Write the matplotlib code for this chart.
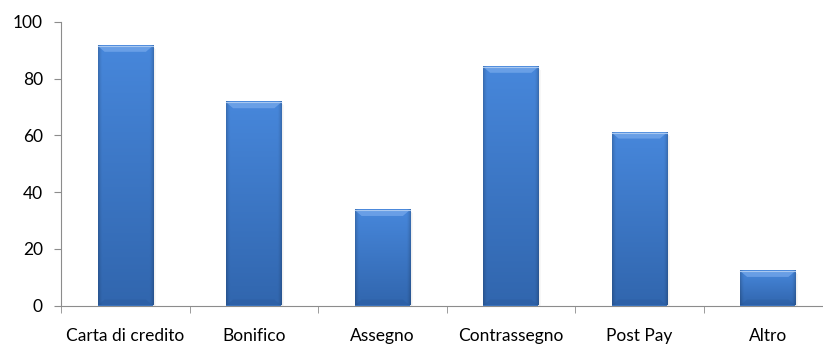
import numpy as np
import matplotlib
matplotlib.use("Agg")
import matplotlib.pyplot as plt
from matplotlib.patches import Polygon

categories = ["Carta di credito", "Bonifico", "Assegno", "Contrassegno", "Post Pay", "Altro"]
values = [91.6, 71.7, 33.7, 84.2, 61.0, 12.2]
y_ticks = [0, 20, 40, 60, 80, 100]

plt.rcParams["font.family"] = ["Lato", "DejaVu Sans"]

fig = plt.figure(figsize=(8.23, 3.46), dpi=100)
ax = fig.add_axes([61 / 823, 40.5 / 346, 771 / 823, 283.5 / 346])

x = np.arange(len(categories))
bar_w = 0.43
bars = ax.bar(x, values, width=bar_w, color="#3a75c4", zorder=2)

ax.set_xlim(-0.5, len(categories) - 0.5)
ax.set_ylim(0, 100)

axis_col = "#8c8c8c"
for side in ("top", "right"):
    ax.spines[side].set_visible(False)
ax.spines["left"].set_color(axis_col)
ax.spines["bottom"].set_color(axis_col)

ax.set_yticks(y_ticks)
ax.tick_params(axis="y", length=5, color=axis_col, labelsize=12.5, pad=8)
ax.set_xticks(x)
ax.set_xticklabels(categories)
ax.tick_params(axis="x", which="major", length=0, labelsize=12.5, pad=16)
ax.set_xticks(np.arange(-0.5, len(categories), 1.0), minor=True)
ax.tick_params(axis="x", which="minor", length=5, color=axis_col)

# Shaded fill for each bar: darker toward the bottom and the side edges
top_rgb = np.array([0x47, 0x87, 0xdb]) / 255
bot_rgb = np.array([0x31, 0x66, 0xae]) / 255
px_x = 1.0 / 128.5  # data units per pixel, x
px_y = 100 / 283.5  # data units per pixel, y
for rect in bars:
    x0, w = rect.get_x(), rect.get_width()
    h = rect.get_height()
    ny, nx = 100, 60
    t = np.linspace(0, 1, ny)[:, None, None]
    col = top_rgb * (1 - t) + bot_rgb * t
    s = np.linspace(-1, 1, nx)
    shade = 1 - 0.18 * np.clip((np.abs(s) - 0.85) / 0.15, 0, 1) ** 1.5
    img = col * shade[None, :, None]
    ax.imshow(img, extent=(x0, x0 + w, 0, h), aspect="auto", zorder=3,
              interpolation="bilinear")
    # soft shadow on right
    for k, a in enumerate([0.10, 0.06, 0.03]):
        ax.add_patch(plt.Rectangle((x0 + w + k * px_x, 0), px_x, h - (k + 1) * px_y,
                                   color="black", alpha=a, lw=0, zorder=1))
    # bevel: top facet lighter
    bx, by = 7 * px_x, 6 * px_y
    by = min(by, h / 3)
    ax.add_patch(Polygon([(x0, h), (x0 + w, h), (x0 + w - bx, h - by), (x0 + bx, h - by)],
                         closed=True, color="#78aaec", alpha=0.7, lw=0, zorder=4))
    ax.add_patch(Polygon([(x0, 0), (x0 + bx, by), (x0 + w - bx, by), (x0 + w, 0)],
                         closed=True, color="#1a447f", alpha=0.15, lw=0, zorder=4))
    ax.plot([x0, x0 + w], [h, h], color="#a9c8f0", lw=0.8, zorder=5)

fig.savefig("out.png", dpi=100)
